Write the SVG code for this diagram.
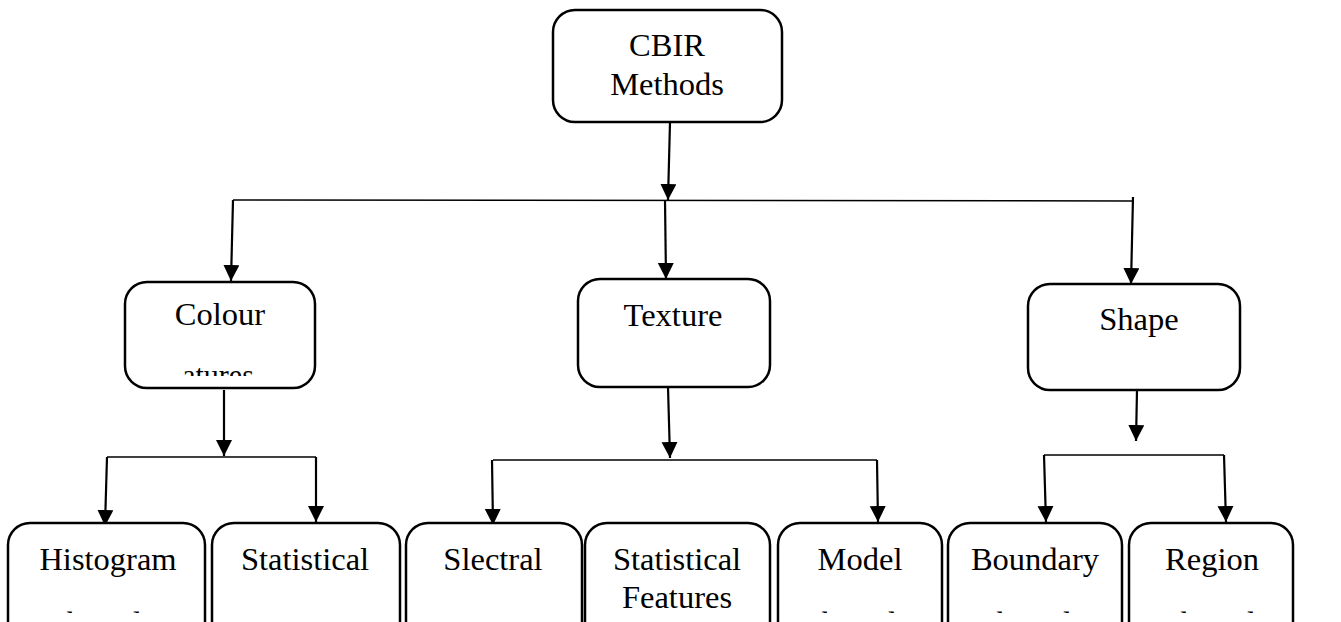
<svg xmlns="http://www.w3.org/2000/svg" width="1341" height="622" viewBox="0 0 1341 622">
<style>
.box{fill:#fff;stroke:#000;stroke-width:2.5}
.lbl{font-family:"Liberation Serif","Times New Roman",serif;font-size:32.5px;fill:#000;text-anchor:middle}
.hl{stroke:#000;stroke-width:1.5;fill:none}
.ar{stroke:#000;stroke-width:2.2;fill:none;marker-end:url(#ah)}
</style>
<defs>
<marker id="ah" markerUnits="userSpaceOnUse" markerWidth="16" markerHeight="20" viewBox="0 0 16 20" refX="16" refY="8" orient="auto">
<path d="M0,0 L16,8 L0,16 Z" fill="#000"/>
</marker>
<clipPath id="cColour"><rect x="125" y="282" width="190" height="94"/></clipPath>
<clipPath id="cBottom"><rect x="0" y="523" width="1341" height="90"/></clipPath>
</defs>
<g id="connectors">
<line class="ar" x1="670" y1="122" x2="668" y2="200"/>
<line class="hl" x1="233" y1="200" x2="1133" y2="201"/>
<line class="ar" x1="233" y1="200" x2="231" y2="281"/>
<line class="ar" x1="665" y1="200" x2="666" y2="279"/>
<line class="ar" x1="1133" y1="197" x2="1131" y2="284"/>
<line class="ar" x1="224" y1="390" x2="224" y2="456"/>
<line class="hl" x1="107" y1="457" x2="316" y2="457"/>
<line class="ar" x1="107" y1="457" x2="105" y2="526"/>
<line class="ar" x1="316" y1="457" x2="316" y2="522"/>
<line class="ar" x1="668" y1="387" x2="670" y2="458"/>
<line class="hl" x1="493" y1="460" x2="877" y2="460"/>
<line class="ar" x1="492" y1="460" x2="493" y2="525"/>
<line class="ar" x1="877" y1="460" x2="878" y2="522"/>
<line class="ar" x1="1137" y1="390" x2="1136" y2="441"/>
<line class="hl" x1="1044" y1="455" x2="1224" y2="455"/>
<line class="ar" x1="1044" y1="455" x2="1046" y2="522"/>
<line class="ar" x1="1224" y1="455" x2="1226" y2="522"/>
</g>
<g id="cbir">
<rect class="box" x="553" y="10" width="229" height="112" rx="22"/>
<text class="lbl" x="667" y="56">CBIR</text>
<text class="lbl" x="667" y="95">Methods</text>
</g>
<g id="colour">
<rect class="box" x="125" y="282" width="190" height="106" rx="22"/>
<text class="lbl" x="220" y="325">Colour</text>
<text class="lbl" x="218" y="385" clip-path="url(#cColour)" style="font-size:30px">atures</text>
</g>
<g id="texture">
<rect class="box" x="578" y="279" width="192" height="108" rx="22"/>
<text class="lbl" x="673" y="326">Texture</text>
</g>
<g id="shape">
<rect class="box" x="1028" y="284" width="212" height="106" rx="22"/>
<text class="lbl" x="1139" y="330">Shape</text>
</g>
<g id="histogram">
<rect class="box" x="8" y="523" width="197" height="130" rx="22"/>
<text class="lbl" x="108" y="570">Histogram</text>
<text class="lbl" x="104" y="634" clip-path="url(#cBottom)">based</text>
</g>
<g id="statistical-colour">
<rect class="box" x="212" y="523" width="188" height="130" rx="22"/>
<text class="lbl" x="305" y="570">Statistical</text>
<text class="lbl" x="301" y="634" clip-path="url(#cBottom)">Features</text>
</g>
<g id="slectral">
<rect class="box" x="406" y="523" width="176" height="130" rx="22"/>
<text class="lbl" x="493" y="570">Slectral</text>
<text class="lbl" x="490" y="634" clip-path="url(#cBottom)">Features</text>
</g>
<g id="statistical-texture">
<rect class="box" x="585" y="523" width="185" height="130" rx="22"/>
<text class="lbl" x="677" y="570">Statistical</text>
<text class="lbl" x="677" y="608">Features</text>
</g>
<g id="model">
<rect class="box" x="778" y="523" width="164" height="130" rx="22"/>
<text class="lbl" x="860" y="570">Model</text>
<text class="lbl" x="859" y="634" clip-path="url(#cBottom)">based</text>
</g>
<g id="boundary">
<rect class="box" x="948" y="523" width="174" height="130" rx="22"/>
<text class="lbl" x="1035" y="570">Boundary</text>
<text class="lbl" x="1034" y="634" clip-path="url(#cBottom)">based</text>
</g>
<g id="region">
<rect class="box" x="1129" y="523" width="164" height="130" rx="22"/>
<text class="lbl" x="1212" y="570">Region</text>
<text class="lbl" x="1218" y="634" clip-path="url(#cBottom)">based</text>
</g>
</svg>
